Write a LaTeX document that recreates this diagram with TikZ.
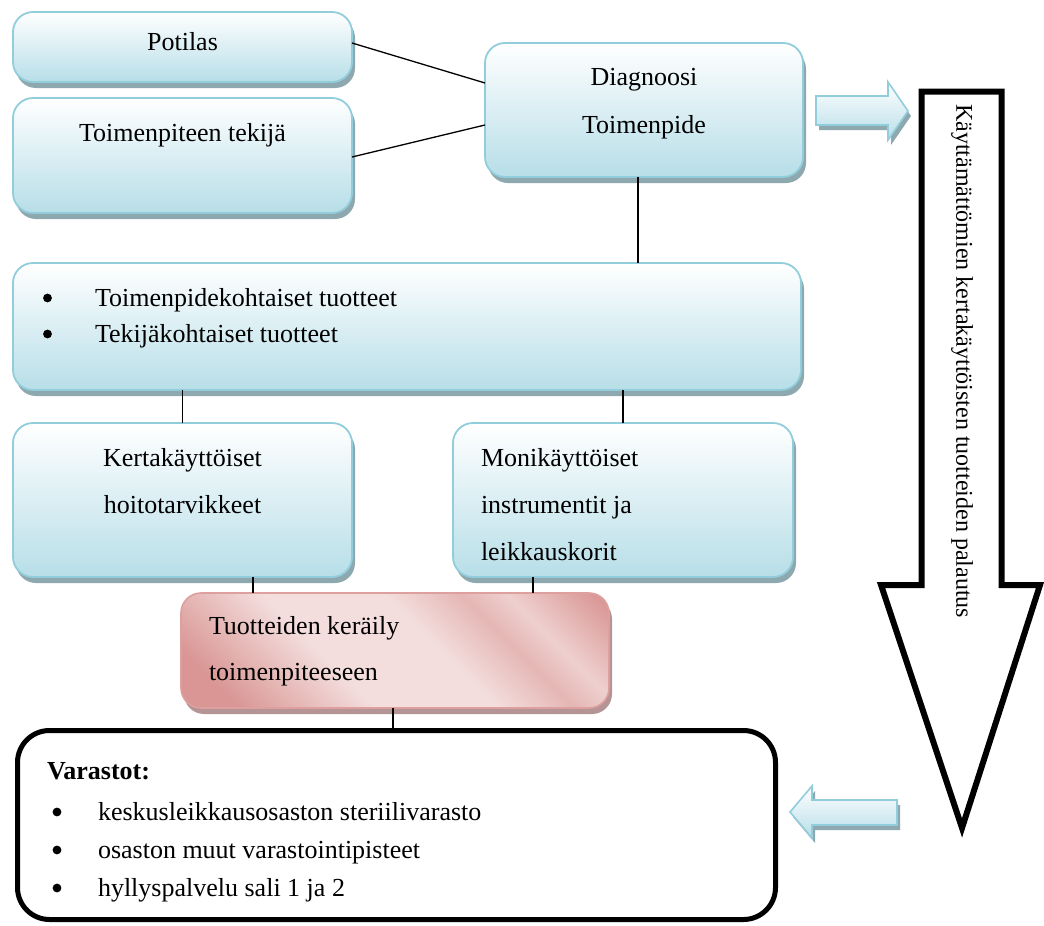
\documentclass[tikz,border=0pt]{standalone}
\usepackage{fontspec}
\setmainfont{Liberation Serif}
\usetikzlibrary{shadows}
\definecolor{aquaedge}{RGB}{146,205,220}
\definecolor{aquafill}{RGB}{183,222,232}
\definecolor{aquashadow}{RGB}{141,168,174}
\definecolor{pinkdark}{RGB}{217,150,148}
\definecolor{pinklight}{RGB}{243,222,221}
\definecolor{pinkedge}{RGB}{222,160,158}
\definecolor{pinkshadow}{RGB}{180,148,148}
% diagonal rose shading of the collection box
\pgfdeclarehorizontalshading{rosewave}{100bp}{color(0bp)=(pinkdark); color(22bp)=(pinkdark); color(40bp)=(pinklight); color(56bp)=(pinklight); color(66bp)=(pinkdark!55!pinklight); color(72bp)=(pinklight!80!pinkdark); color(84bp)=(pinkdark); color(100bp)=(pinkdark)}
\begin{document}
\begin{tikzpicture}[x=1pt,y=-1pt,
  txt/.style={font=\fontsize{26pt}{30pt}\selectfont, inner sep=0pt, outer sep=0pt,
    text height=18pt, text depth=5pt},
  listdot/.style={fill=black},
  conn/.style={line width=1.3pt, black},
  aquabox/.style={draw=aquaedge, line width=1.8pt, rounded corners=20pt,
    top color=white, bottom color=aquafill, inner sep=0pt, outer sep=0pt,
    drop shadow={shadow xshift=3pt, shadow yshift=-6pt, fill=aquashadow, opacity=1}},
  rosebox/.style={draw=pinkedge, line width=1.6pt, rounded corners=20pt,
    shade, shading=rosewave, shading angle=45, inner sep=0pt, outer sep=0pt,
    drop shadow={shadow xshift=3pt, shadow yshift=-6pt, fill=pinkshadow, opacity=1}},
  storebox/.style={draw=black, line width=5pt, rounded corners=32pt, fill=white,
    inner sep=0pt, outer sep=0pt},
  aquaarrow/.style={draw=aquaedge, line width=1.6pt, top color=white, bottom color=aquafill, line join=miter},
  aquaarrowshadow/.style={fill=aquashadow},
  bigarrow/.style={draw=black, line width=6pt, line join=miter, miter limit=20, fill=white}
]
\useasboundingbox (0,0) rectangle (1044,926);

% boxes
\node[aquabox, minimum width=339pt, minimum height=70pt]  (pot)  at (182.5,47)  {};
\node[aquabox, minimum width=339pt, minimum height=115pt] (tek)  at (182.5,155.5) {};
\node[aquabox, minimum width=318pt, minimum height=134pt] (diag) at (644,110)   {};
\node[aquabox, minimum width=788pt, minimum height=127pt] (big)  at (407,326.5) {};
\node[aquabox, minimum width=339pt, minimum height=154pt] (kert) at (182.5,500) {};
\node[aquabox, minimum width=340pt, minimum height=154pt] (moni) at (623,500)   {};
\node[rosebox, minimum width=428pt, minimum height=115pt] (pink) at (395,650.5) {};
\node[storebox, minimum width=758pt, minimum height=189pt] (var) at (396.5,825) {};

% texts
\node[txt, anchor=base] (tpot) at (182.5,50) {Potilas};
\node[txt, anchor=base] (ttek) at (182.5,141) {Toimenpiteen tekijä};
\node[txt, anchor=base] (tdiag1) at (644,85) {Diagnoosi};
\node[txt, anchor=base] (tdiag2) at (644,133) {Toimenpide};
\node[txt, anchor=base west] (tbig1) at (95,306) {Toimenpidekohtaiset tuotteet};
\node[txt, anchor=base west] (tbig2) at (95,342) {Tekijäkohtaiset tuotteet};
\node[txt, anchor=base] (tkert1) at (182.5,466) {Kertakäyttöiset};
\node[txt, anchor=base] (tkert2) at (182.5,513) {hoitotarvikkeet};
\node[txt, anchor=base west] (tmoni1) at (481,466) {Monikäyttöiset};
\node[txt, anchor=base west] (tmoni2) at (481,513) {instrumentit ja};
\node[txt, anchor=base west] (tmoni3) at (481,560) {leikkauskorit};
\node[txt, anchor=base west] (tpink1) at (209,634) {Tuotteiden keräily};
\node[txt, anchor=base west] (tpink2) at (209,680) {toimenpiteeseen};
\node[txt, anchor=base west] (tvar0) at (47,779) {\textbf{Varastot:}};
\node[txt, anchor=base west] (tvar1) at (98,820) {keskusleikkausosaston steriilivarasto};
\node[txt, anchor=base west] (tvar2) at (98,858) {osaston muut varastointipisteet};
\node[txt, anchor=base west] (tvar3) at (98,896) {hyllyspalvelu sali 1 ja 2};

% list bullets
\fill[listdot] (47.5,298) circle (4.4pt) (47.5,334) circle (4.4pt);
\fill[listdot] (57,812) circle (4.4pt) (57,850) circle (4.4pt) (57,888) circle (4.4pt);

% connectors
\draw[conn] ([yshift=4pt]pot.east) -- ([yshift=27pt]diag.west);
\draw[conn] ([yshift=-1.5pt]tek.east) -- ([yshift=-15pt]diag.west);
\coordinate (dd) at ([xshift=-6pt]diag.south);
\draw[conn] (dd) -- (dd |- big.north);
\draw[conn] (kert.north) -- (kert.north |- big.south);
\draw[conn] (moni.north) -- (moni.north |- big.south);
\coordinate (pk) at ([xshift=-142pt]pink.north);
\coordinate (pm) at ([xshift=138pt]pink.north);
\draw[conn] (pk) -- (pk |- kert.south);
\draw[conn] (pm) -- (pm |- moni.south);
\draw[conn] ([xshift=-2pt]pink.south) -- ([xshift=-2pt]pink.south |- var.north);

% small block arrows
\begin{scope}[shift={(3,5)}]
  \fill[aquaarrowshadow] (816,96) -- (888,96) -- (888,82) -- (908,111) -- (888,140) -- (888,125) -- (816,125) -- cycle;
  \fill[aquaarrowshadow] (897,800) -- (812,800) -- (812,786) -- (790,812) -- (812,838) -- (812,825) -- (897,825) -- cycle;
\end{scope}
\path[aquaarrow] (816,96) -- (888,96) -- (888,82) -- (908,111) -- (888,140) -- (888,125) -- (816,125) -- cycle;
\path[aquaarrow] (897,800) -- (812,800) -- (812,786) -- (790,812) -- (812,838) -- (812,825) -- (897,825) -- cycle;

% large return arrow
\draw[bigarrow] (921.5,91.5) -- (1001.5,91.5) -- (1001.5,585) -- (1040,585) -- (962,828) -- (881,585) -- (921.5,585) -- cycle;
\node[font=\fontsize{24pt}{28pt}\selectfont, inner sep=0pt, rotate=-90] (palautus) at (962,361) {Käyttämättömien kertakäyttöisten tuotteiden palautus};
\end{tikzpicture}
\end{document}
